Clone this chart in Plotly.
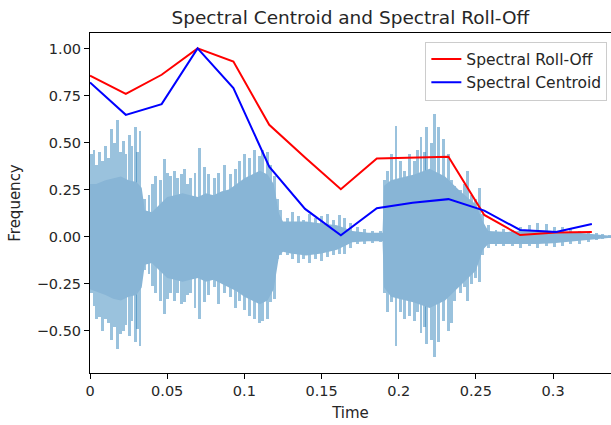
import plotly.graph_objects as go

# ---- feature curves (frame times in seconds, normalised values) ----
frame_t = [0.0, 0.0232, 0.0464, 0.0697, 0.0929, 0.1161, 0.1393, 0.1625,
           0.1858, 0.2090, 0.2322, 0.2554, 0.2786, 0.3019, 0.3251]
rolloff = [0.855, 0.759, 0.86, 1.0, 0.93, 0.594, 0.42, 0.252,
           0.415, 0.42, 0.424, 0.115, 0.008, 0.022, 0.025]
centroid = [0.819, 0.647, 0.704, 1.0, 0.789, 0.372, 0.147, 0.007,
            0.151, 0.18, 0.199, 0.138, 0.035, 0.025, 0.067]

# ---- waveform: individual peaks ----
spike_t = [0.0010, 0.0026, 0.0045, 0.0062, 0.0080, 0.0101, 0.0120, 0.0138, 0.0158, 0.0177,
           0.0195, 0.0214, 0.0233, 0.0253, 0.0272, 0.0292, 0.0308, 0.0324, 0.0350, 0.0382,
           0.0405, 0.0426, 0.0455, 0.0484, 0.0505, 0.0523, 0.0545, 0.0566, 0.0590, 0.0610,
           0.0632, 0.0653, 0.0680, 0.0707, 0.0740, 0.0770, 0.0804, 0.0835, 0.0869, 0.0912,
           0.0940, 0.0966, 0.1003, 0.1035, 0.1063, 0.1095, 0.1117, 0.1150, 0.1172, 0.1193,
           0.1215, 0.1236, 0.1280, 0.1312, 0.1350, 0.1380, 0.1420, 0.1460, 0.1500, 0.1539,
           0.1580, 0.1614, 0.1650, 0.1690, 0.1730, 0.1780, 0.1830, 0.1880, 0.1906, 0.1928,
           0.1955, 0.1982, 0.2010, 0.2036, 0.2068, 0.2100, 0.2120, 0.2144, 0.2165, 0.2180,
           0.2210, 0.2230, 0.2260, 0.2290, 0.2320, 0.2340, 0.2360, 0.2400, 0.2425, 0.2447,
           0.2470, 0.2500, 0.2523, 0.2545, 0.2580, 0.2630, 0.2680, 0.2738, 0.2790, 0.2847,
           0.2900, 0.2955, 0.3010, 0.3063, 0.3110, 0.3170, 0.3230, 0.3279, 0.3320, 0.3365]
spike_hi = [0.44, 0.46, 0.38, 0.45, 0.40, 0.48, 0.42, 0.57, 0.50, 0.62,
            0.45, 0.51, 0.44, 0.54, 0.48, 0.585, 0.45, 0.56, 0.20, 0.22,
            0.28, 0.32, 0.30, 0.41, 0.34, 0.32, 0.35, 0.31, 0.33, 0.36,
            0.28, 0.31, 0.34, 0.47, 0.37, 0.33, 0.31, 0.34, 0.38, 0.33,
            0.36, 0.40, 0.44, 0.42, 0.46, 0.43, 0.46, 0.45, 0.38, 0.32,
            0.20, 0.14, 0.10, 0.13, 0.11, 0.09, 0.12, 0.10, 0.11, 0.12,
            0.09, 0.115, 0.10, 0.07, 0.05, 0.04, 0.03, 0.03, 0.30, 0.35,
            0.44, 0.59, 0.40, 0.35, 0.44, 0.40, 0.46, 0.53, 0.45, 0.585,
            0.50, 0.65, 0.585, 0.52, 0.44, 0.30, 0.27, 0.25, 0.28, 0.35,
            0.22, 0.20, 0.26, 0.12, 0.06, 0.035, 0.04, 0.035, 0.05, 0.06,
            0.07, 0.065, 0.05, 0.05, 0.045, 0.03, 0.027, 0.018, 0.012, 0.008]
spike_lo = [-0.30, -0.37, -0.44, -0.43, -0.50, -0.44, -0.46, -0.55, -0.48, -0.60,
            -0.52, -0.50, -0.47, -0.53, -0.45, -0.56, -0.49, -0.58, -0.18, -0.20,
            -0.26, -0.30, -0.34, -0.41, -0.33, -0.30, -0.34, -0.30, -0.36, -0.35,
            -0.31, -0.30, -0.38, -0.44, -0.35, -0.31, -0.27, -0.36, -0.30, -0.32,
            -0.38, -0.34, -0.39, -0.42, -0.44, -0.46, -0.45, -0.44, -0.35, -0.33,
            -0.12, -0.10, -0.10, -0.12, -0.14, -0.12, -0.14, -0.12, -0.13, -0.11,
            -0.10, -0.09, -0.09, -0.06, -0.04, -0.04, -0.035, -0.03, -0.30, -0.40,
            -0.35, -0.58, -0.40, -0.44, -0.42, -0.45, -0.40, -0.51, -0.48, -0.57,
            -0.55, -0.64, -0.56, -0.45, -0.50, -0.46, -0.34, -0.30, -0.27, -0.34,
            -0.25, -0.22, -0.24, -0.10, -0.06, -0.05, -0.05, -0.05, -0.06, -0.05,
            -0.06, -0.05, -0.055, -0.05, -0.04, -0.04, -0.03, -0.02, -0.015, -0.01]

# ---- waveform: dense core envelope ----
core_t = [0.000, 0.004, 0.010, 0.015, 0.020, 0.025, 0.030, 0.0335, 0.0355, 0.040,
          0.045, 0.050, 0.055, 0.060, 0.065, 0.070, 0.075, 0.080, 0.085, 0.090,
          0.095, 0.100, 0.105, 0.110, 0.115, 0.119, 0.1225, 0.125, 0.130, 0.140,
          0.150, 0.160, 0.165, 0.170, 0.180, 0.1895, 0.1905, 0.195, 0.200, 0.210,
          0.220, 0.230, 0.240, 0.250, 0.2545, 0.258, 0.270, 0.280, 0.290, 0.300,
          0.310, 0.320, 0.330, 0.3375]
core_hi = [0.28, 0.28, 0.30, 0.31, 0.32, 0.30, 0.29, 0.26, 0.14, 0.13,
           0.17, 0.21, 0.22, 0.23, 0.22, 0.21, 0.23, 0.22, 0.24, 0.25,
           0.28, 0.31, 0.33, 0.35, 0.33, 0.28, 0.12, 0.08, 0.08, 0.08,
           0.07, 0.06, 0.045, 0.03, 0.02, 0.02, 0.27, 0.30, 0.31, 0.33,
           0.36, 0.32, 0.24, 0.17, 0.08, 0.03, 0.025, 0.03, 0.035, 0.03,
           0.025, 0.018, 0.01, 0.005]
core_lo = [-0.28, -0.29, -0.31, -0.33, -0.34, -0.32, -0.31, -0.27, -0.15, -0.14,
           -0.18, -0.22, -0.23, -0.24, -0.23, -0.22, -0.24, -0.23, -0.25, -0.27,
           -0.29, -0.32, -0.34, -0.36, -0.34, -0.28, -0.10, -0.08, -0.09, -0.10,
           -0.09, -0.07, -0.05, -0.03, -0.025, -0.025, -0.27, -0.32, -0.33, -0.35,
           -0.38, -0.34, -0.26, -0.18, -0.07, -0.04, -0.04, -0.04, -0.04, -0.035,
           -0.03, -0.02, -0.012, -0.006]

x_tick_vals = [0, 0.05, 0.1, 0.15, 0.2, 0.25, 0.3]
x_tick_text = ["0", "0.05", "0.1", "0.15", "0.2", "0.25", "0.3"]
y_tick_vals = [1.0, 0.75, 0.5, 0.25, 0.0, -0.25, -0.5]
y_tick_text = ["1.00", "0.75", "0.50", "0.25", "0.00", "\u22120.25", "\u22120.50"]

FONT = "DejaVu Sans"
TXT = "#262626"

fig = go.Figure()

fig.add_trace(go.Bar(
    x=spike_t,
    y=[h - l for h, l in zip(spike_hi, spike_lo)],
    base=spike_lo,
    width=0.0019,
    marker=dict(color="rgba(31,119,180,0.45)", line=dict(width=0)),
    showlegend=False, hoverinfo="skip",
))

fig.add_trace(go.Scatter(
    x=core_t + core_t[::-1],
    y=core_hi + core_lo[::-1],
    fill="toself",
    fillcolor="rgb(136,181,214)",
    line=dict(width=0),
    mode="lines",
    showlegend=False, hoverinfo="skip",
))

fig.add_trace(go.Scatter(
    x=frame_t, y=rolloff, mode="lines", name="Spectral Roll-Off",
    line=dict(color="rgb(255,0,0)", width=2),
))
fig.add_trace(go.Scatter(
    x=frame_t, y=centroid, mode="lines", name="Spectral Centroid",
    line=dict(color="rgb(0,0,255)", width=2),
))

fig.update_layout(
    width=611, height=425,
    margin=dict(l=90, r=0, t=33, b=52),
    paper_bgcolor="white", plot_bgcolor="white",
    font=dict(family=FONT, size=14.5, color=TXT),
    title=dict(text="Spectral Centroid and Spectral Roll-Off",
               x=0.5735, xanchor="center", y=0.958, yanchor="middle",
               font=dict(family=FONT, size=18.5, color=TXT)),
    bargap=0,
    legend=dict(x=0.993, xanchor="right", y=0.975, yanchor="top",
                bordercolor="#cccccc", borderwidth=1,
                bgcolor="rgba(255,255,255,0.8)",
                font=dict(family=FONT, size=15.5, color=TXT),
                tracegroupgap=0),
)

fig.update_xaxes(
    range=[0, 0.3375], tickvals=x_tick_vals, ticktext=x_tick_text,
    showgrid=False, zeroline=False,
    showline=True, linecolor="#000", linewidth=1, mirror=True,
    ticks="outside", ticklen=5, tickcolor="#000",
    title=dict(text="Time", font=dict(family=FONT, size=15), standoff=9),
)
fig.update_yaxes(
    range=[-0.725, 1.082], tickvals=y_tick_vals, ticktext=y_tick_text,
    showgrid=False, zeroline=False,
    showline=True, linecolor="#000", linewidth=1, mirror=False,
    ticks="outside", ticklen=5, tickcolor="#000",
    title=dict(text="Frequency", font=dict(family=FONT, size=15), standoff=12),
)

fig.write_html("out.html")
